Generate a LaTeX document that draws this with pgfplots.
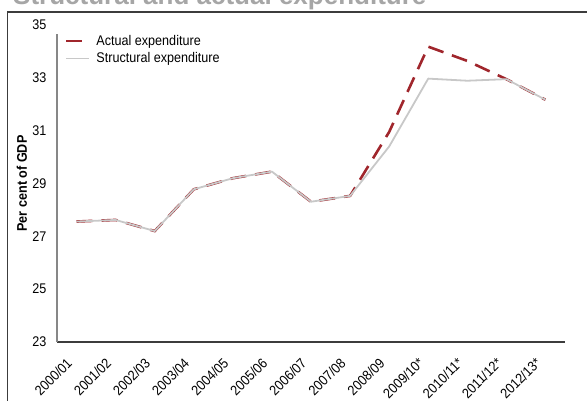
\documentclass[border=0pt]{standalone}
\usepackage{fontspec}
\setmainfont{Liberation Sans}[FakeStretch=0.9]
\newfontfamily\titlefont{Liberation Sans}
\usepackage{pgfplots}
\pgfplotsset{compat=1.18}
\definecolor{actualred}{RGB}{160,38,44}
\definecolor{structgray}{RGB}{200,200,200}
\definecolor{yaxisgray}{RGB}{135,135,135}
\definecolor{xaxisdark}{RGB}{60,60,60}
\definecolor{titlegray}{RGB}{166,166,166}
\definecolor{framedark}{RGB}{60,60,60}
\begin{document}
\begin{tikzpicture}
\begin{axis}[
  at={(0pt,0pt)}, anchor=south west,
  width=508pt, height=317pt, scale only axis,
  xmin=-0.5, xmax=12.5, ymin=23, ymax=35,
  xtick={0,...,12},
  xticklabels={2000/01,2001/02,2002/03,2003/04,2004/05,2005/06,2006/07,2007/08,2008/09,2009/10*,2010/11*,2011/12*,2012/13*},
  ytick={23,25,27,29,31,33,35},
  axis line style={draw=none},
  tick style={draw=none},
  /pgf/number format/assume math mode=true,
  yticklabel style={font=\fontsize{14}{16}\selectfont, xshift=-7pt},
  xticklabel style={font=\fontsize{14}{16}\selectfont, inner sep=0pt, xshift=-7pt, yshift=-18.5pt, rotate=45, anchor=east},
  ylabel={\bfseries Per cent of GDP},
  ylabel style={font=\fontsize{14}{16}\selectfont, at={(axis description cs:-0.069,0.5)}, anchor=center},
  legend style={at={(axis description cs:0.015,0.975)}, anchor=north west, draw=none, fill=none,
    font=\fontsize{14}{16}\selectfont, row sep=2pt, inner sep=0pt},
  legend cell align=left,
  legend image code/.code={\draw[#1] (0pt,0pt) -- (23pt,0pt); \path (27pt,0pt);},
  clip=false,
]
\addplot[actualred, line width=2.6pt, dash pattern=on 16pt off 9pt, no markers]
  coordinates {(0,27.56) (1,27.62) (2,27.20) (3,28.78) (4,29.20) (5,29.45) (6,28.31) (7,28.53) (8,30.95) (9,34.18) (10,33.64) (11,32.95) (12,32.17)};
\addlegendentry{Actual expenditure}
\addplot[structgray, line width=1.8pt, line join=round, no markers]
  coordinates {(0,27.56) (1,27.62) (2,27.20) (3,28.78) (4,29.20) (5,29.45) (6,28.31) (7,28.53) (8,30.40) (9,32.97) (10,32.89) (11,32.95) (12,32.17)};
\addlegendentry{Structural expenditure}
\draw[xaxisdark, line width=1.3pt] (axis cs:-0.5,23) -- (axis cs:12.5,23);
\draw[yaxisgray, line width=1.5pt] (axis cs:-0.5,23) -- (axis cs:-0.5,34.65);
\end{axis}
\node[anchor=base west, inner sep=0pt, text=titlegray, font=\titlefont\bfseries\fontsize{26}{30}\selectfont] at (-44pt,337.5pt) {Structural and actual expenditure};
\draw[framedark, line width=1.5pt] (-49.5pt,-80pt) -- (-49.5pt,330pt) -- (600pt,330pt);
\pgfresetboundingbox
\useasboundingbox (-57pt,-59pt) rectangle (530pt,342pt);
\end{tikzpicture}
\end{document}
